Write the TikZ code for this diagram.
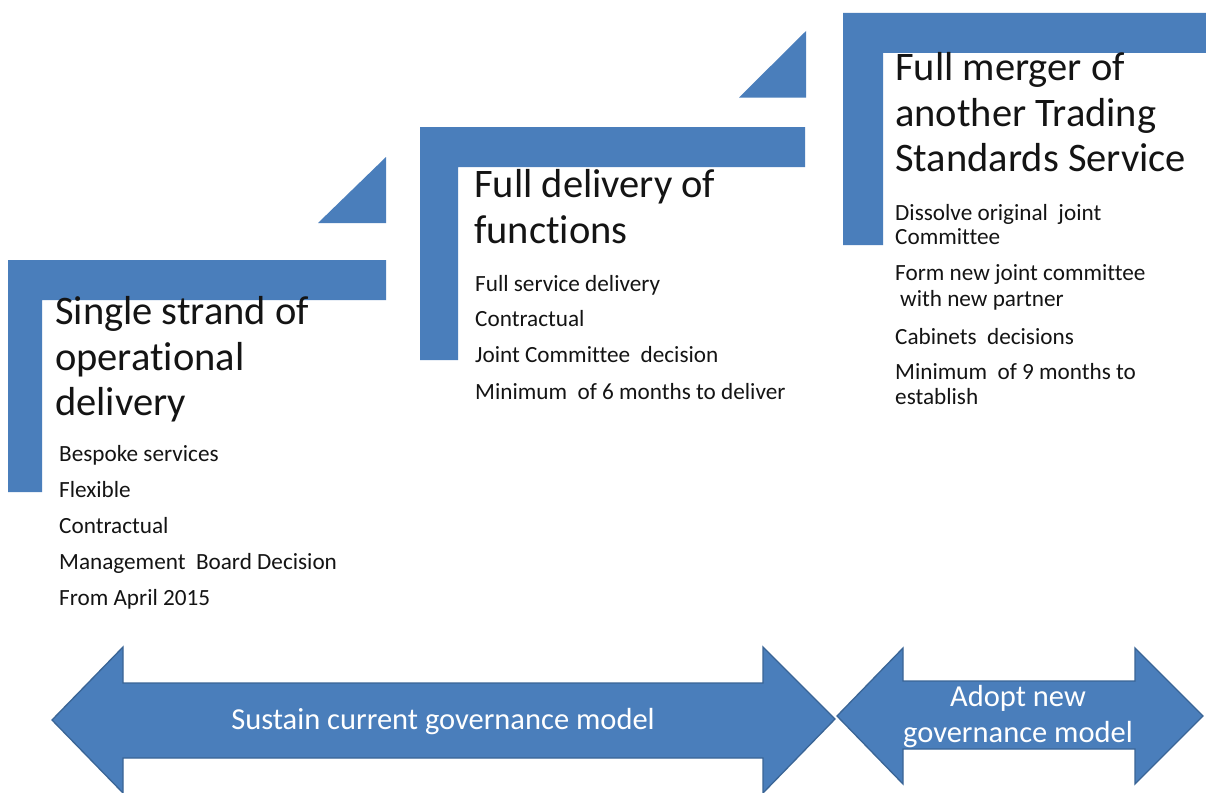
\documentclass[tikz,border=0pt]{standalone}
\usepackage{fontspec}
\setmainfont{Carlito}[Ligatures=NoCommon, RawFeature={-liga;-clig;-calt;-dlig}]
\definecolor{stepblue}{HTML}{4A7EBB}
\definecolor{arrowedge}{HTML}{3A6596}
\definecolor{txt}{HTML}{141414}
\begin{document}
\begin{tikzpicture}[x=1pt,y=-1pt,
  bar/.style={fill=stepblue},
  bigarrow/.style={fill=stepblue, draw=arrowedge, line width=1.3pt, line join=miter},
  title/.style={anchor=base west, inner sep=0pt, text=txt, font=\fontsize{40.5}{46}\selectfont},
  item/.style={anchor=base west, inner sep=0pt, text=txt, font=\fontsize{23.2}{25}\selectfont},
  arrowlabel/.style={text=white, align=center, inner sep=0pt, font=\fontsize{30.5}{36}\selectfont}]
\useasboundingbox (0,0) rectangle (1206,792);
\clip (0,0) rectangle (1206,792);
\fill[white] (0,0) rectangle (1206,792);

% step 1
\path[bar] (8,260) -- (386,260) -- (386,300) -- (42,300) -- (42,492) -- (8,492) -- cycle;
\path[bar] (318,223) -- (386,157) -- (386,223) -- cycle;
% step 2
\path[bar] (420,127) -- (805,127) -- (805,167) -- (458,167) -- (458,360) -- (420,360) -- cycle;
\path[bar] (739,97.5) -- (806,31) -- (806,97.5) -- cycle;
% step 3
\path[bar] (843,13) -- (1206,13) -- (1206,53) -- (883,53) -- (883,245) -- (843,245) -- cycle;

% step 1 texts
\node[title] (s1a) at (55,324) {Single strand of};
\node[title] (s1b) at (55,370) {operational};
\node[title] (s1c) at (55,415.5) {delivery};
\node[item] (s1i1) at (59,461.7) {Bespoke services};
\node[item] (s1i2) at (59,497.7) {Flexible};
\node[item] (s1i3) at (59,533.7) {Contractual};
\node[item] (s1i4) at (59,569.7) {Management~ Board Decision};
\node[item] (s1i5) at (59,605.7) {From April 2015};

% step 2 texts
\node[title] (s2a) at (474,197.5) {Full delivery of};
\node[title] (s2b) at (474,243.5) {functions};
\node[item] (s2i1) at (475,291) {Full service delivery};
\node[item] (s2i2) at (475,326.7) {Contractual};
\node[item] (s2i3) at (475,362.7) {Joint Committee~ decision};
\node[item] (s2i4) at (475,399.3) {Minimum~ of 6 months to deliver};

% step 3 texts
\node[title] (s3a) at (895,81) {Full merger of};
\node[title] (s3b) at (895,126) {another Trading};
\node[title] (s3c) at (895,171.5) {Standards Service};
\node[item] (s3i1) at (895,220) {Dissolve original~ joint};
\node[item] (s3i2) at (895,244.5) {Committee};
\node[item] (s3i3) at (895,280.7) {Form new joint committee};
\node[item] (s3i4) at (900,306) {with new partner};
\node[item] (s3i5) at (895,344.3) {Cabinets~ decisions};
\node[item] (s3i6) at (895,379.5) {Minimum~ of 9 months to};
\node[item] (s3i7) at (895,404) {establish};

% bottom double arrows
\path[bigarrow] (52,720) -- (123,647) -- (123,683) -- (763,683) -- (763,647) -- (835,719)
  -- (763,793) -- (763,758) -- (123,758) -- (123,793) -- cycle;
\path[bigarrow] (837,716) -- (903,648) -- (903,681) -- (1135,681) -- (1135,648) -- (1203,716)
  -- (1135,784) -- (1135,749) -- (903,749) -- (903,784) -- cycle;
\node[arrowlabel] (sustain) at (443,722) {Sustain current governance model};
\node[arrowlabel] (adopt) at (1018,717) {Adopt new\\governance model};
\end{tikzpicture}
\end{document}
